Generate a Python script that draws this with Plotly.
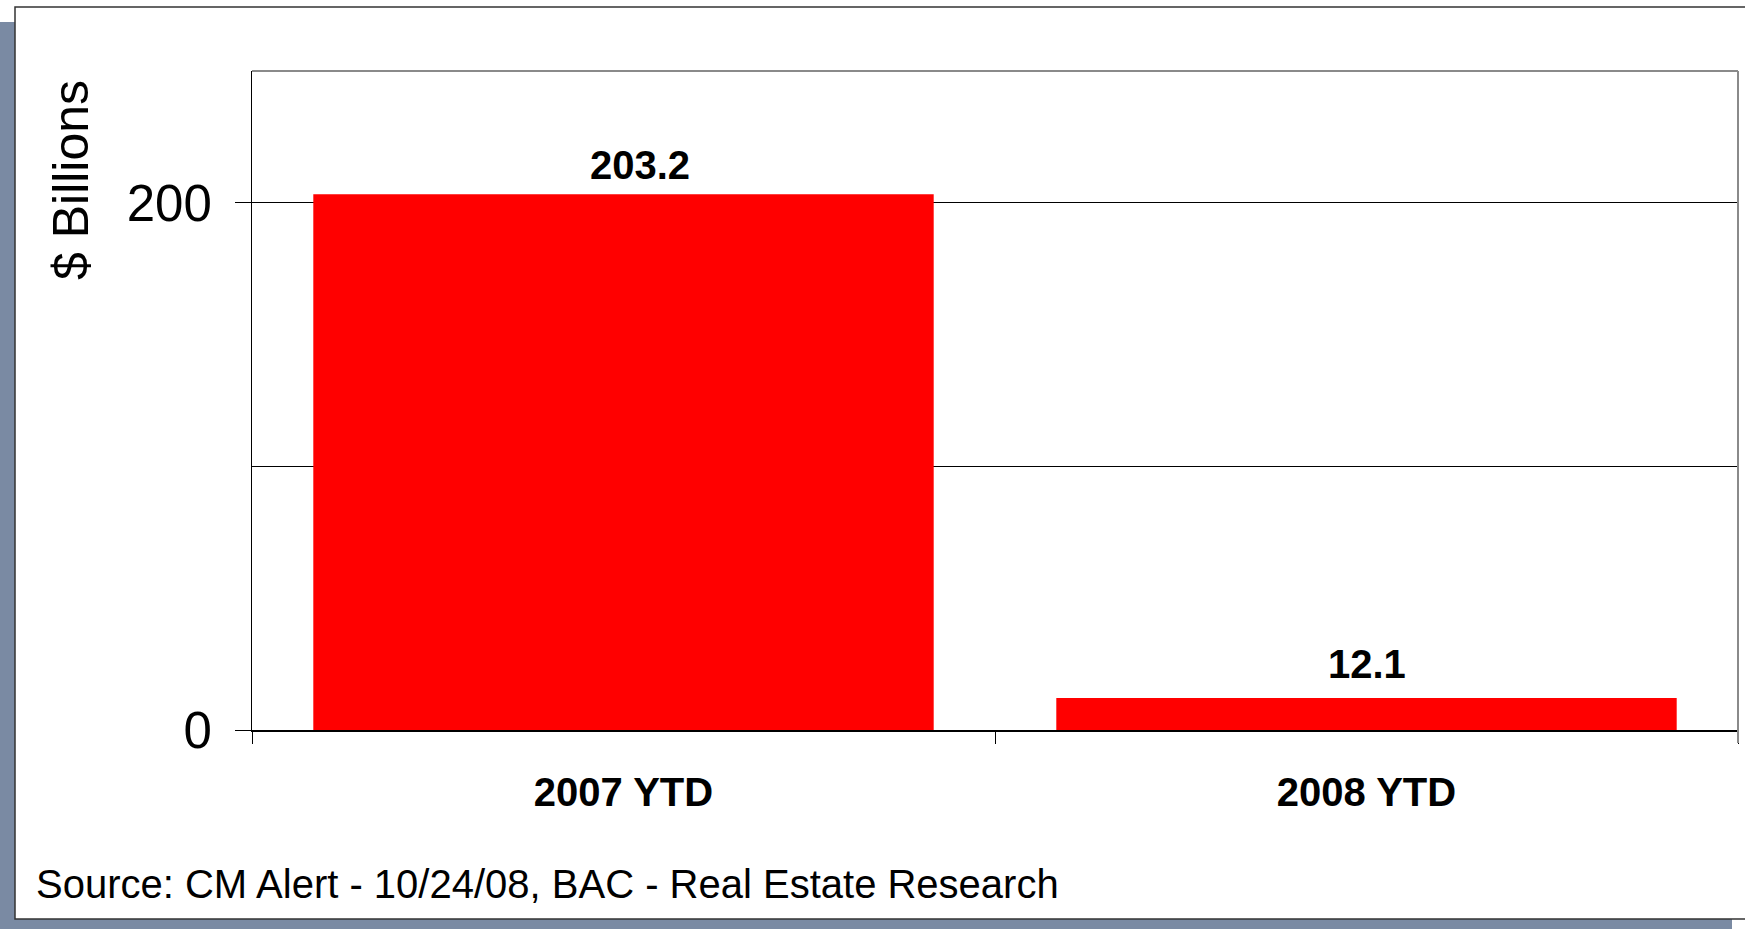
import plotly.graph_objects as go

# Data
categories = ["2007 YTD", "2008 YTD"]
values = [203.2, 12.1]
y_tick_vals = [0, 200]
y_tick_text = ["0", "200"]
y_axis_title = "$ Billions"
source_note = "Source: CM Alert - 10/24/08, BAC - Real Estate Research"

W, H = 1745, 929
ML, MR, MT, MB = 252, 7, 71, 199
PW, PH = W - ML - MR, H - MT - MB

FONT = "Liberation Sans, Arial, sans-serif"
SLATE = "#7a8aa3"

# nudges of each value label above its bar (pixels)
label_xshift = [16, 0]
label_yshift = [5, 10]


def px_x(px):
    return (px - ML) / PW


def px_y(py):
    return (H - MB - py) / PH


fig = go.Figure(
    go.Bar(
        x=categories,
        y=values,
        marker=dict(color="#ff0000", line=dict(width=0)),
        width=0.835,
        hoverinfo="x+y",
    )
)

shapes = [
    # drop shadow behind the white panel
    dict(type="rect", xref="paper", yref="paper", layer="below",
         x0=px_x(-5), x1=px_x(1732), y0=px_y(22), y1=px_y(940),
         fillcolor=SLATE, line=dict(width=0)),
    # white panel
    dict(type="rect", xref="paper", yref="paper", layer="below",
         x0=px_x(15), x1=px_x(1760), y0=px_y(7), y1=px_y(919),
         fillcolor="white", line=dict(color="#333333", width=1.5)),
    # plot frame: top and right edges
    dict(type="line", xref="paper", yref="paper", layer="above",
         x0=0, x1=1, y0=1, y1=1, line=dict(color="#8a8a8a", width=2)),
    dict(type="line", xref="paper", yref="paper", layer="above",
         x0=1, x1=1, y0=px_y(743), y1=1, line=dict(color="#8a8a8a", width=2)),
]

annotations = [
    dict(xref="paper", yref="paper", x=px_x(71), y=px_y(180),
         text=y_axis_title, textangle=-90, showarrow=False,
         font=dict(family=FONT, size=50, color="black"),
         xanchor="center", yanchor="middle"),
    dict(xref="paper", yref="paper", x=px_x(34), y=px_y(884),
         text=source_note, showarrow=False,
         font=dict(family=FONT, size=40, color="black"),
         xanchor="left", yanchor="middle"),
]
for cat, val, dx, dy in zip(categories, values, label_xshift, label_yshift):
    annotations.append(
        dict(x=cat, y=val, xref="x", yref="y", text=f"{val:.1f}",
             showarrow=False, yanchor="bottom", yshift=dy, xshift=dx,
             font=dict(family=FONT, size=40, color="black", weight="bold"))
    )

fig.update_layout(
    width=W, height=H,
    margin=dict(l=ML, r=MR, t=MT, b=MB, pad=0),
    paper_bgcolor="white",
    plot_bgcolor="rgba(0,0,0,0)",
    showlegend=False,
    bargap=0.165,
    shapes=shapes,
    annotations=annotations,
    xaxis=dict(
        type="category",
        showline=True, linecolor="black", linewidth=1.5,
        ticks="outside", tickson="boundaries", ticklen=12,
        tickcolor="black", tickwidth=1,
        showgrid=False, zeroline=False,
        ticklabelstandoff=26,
        tickfont=dict(family=FONT, size=40, color="black", weight="bold"),
    ),
    yaxis=dict(
        range=[0, 250],
        tickmode="array", tickvals=y_tick_vals, ticktext=y_tick_text,
        showline=True, linecolor="black", linewidth=1,
        ticks="outside", ticklen=16, tickcolor="black", tickwidth=1,
        showgrid=True, gridcolor="black", gridwidth=1,
        minor=dict(dtick=100, tick0=0, showgrid=True, gridcolor="black",
                   gridwidth=1, ticks=""),
        zeroline=False,
        ticklabelstandoff=13,
        tickfont=dict(family=FONT, size=51, color="black"),
    ),
)

fig.write_html("out.html")
